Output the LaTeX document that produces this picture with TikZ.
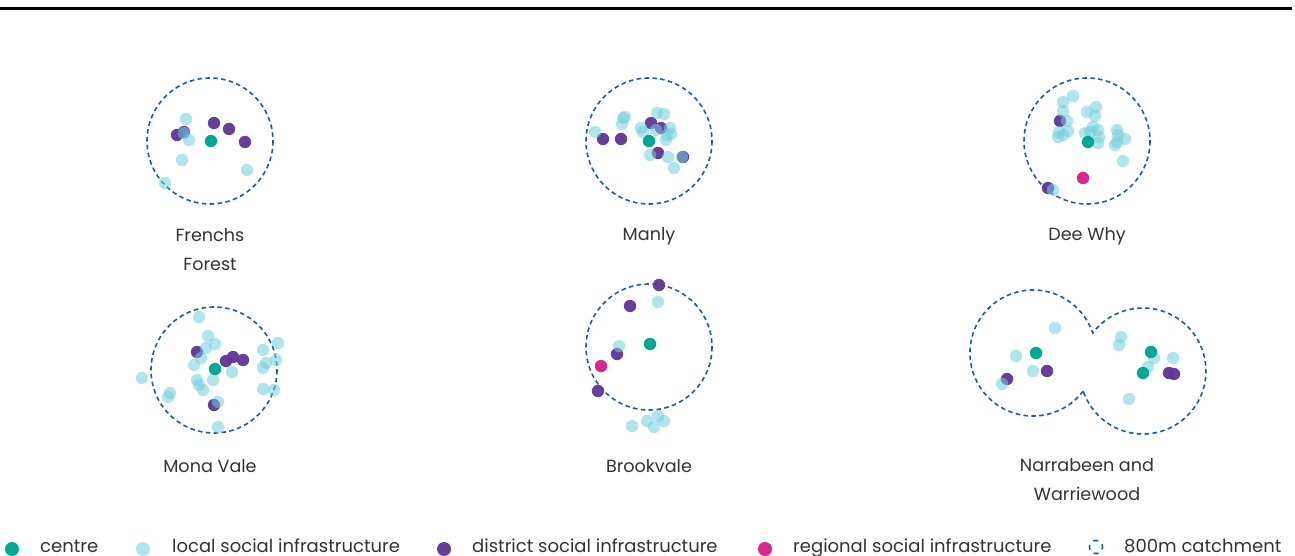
\documentclass[tikz,border=0pt]{standalone}
\usepackage{fontspec}
\setmainfont{Poppins}
\definecolor{centrec}{HTML}{00A896}
\definecolor{localc}{HTML}{6FCFDD}
\definecolor{distc}{HTML}{5F3596}
\definecolor{regc}{HTML}{D9268E}
\definecolor{catchc}{HTML}{1A5AA8}
\definecolor{txtc}{HTML}{333333}
\tikzset{
  catch/.style={draw=catchc, line width=1.6pt, dash pattern=on 4.5pt off 3.4pt},
  locd/.style={fill=localc, fill opacity=0.55},
  distd/.style={fill=distc, fill opacity=0.95},
  cend/.style={fill=centrec},
  regd/.style={fill=regc},
  lab/.style={text=txtc, font=\fontsize{17.6}{29}\selectfont, align=center, anchor=center, inner sep=0pt},
  legt/.style={text=txtc, font=\fontsize{18}{20}\selectfont, anchor=base west, inner sep=0pt},
}
\newcommand{\loc}[1]{\fill[locd] (#1) circle[radius=6.2];}
\newcommand{\dis}[1]{\fill[distd] (#1) circle[radius=6.2];}
\newcommand{\cen}[1]{\fill[cend] (#1) circle[radius=6.2];}
\newcommand{\reg}[1]{\fill[regd] (#1) circle[radius=6.2];}
\begin{document}
\begin{tikzpicture}[x=1pt,y=-1pt]
\useasboundingbox (0,0) rectangle (1295,556);
% top rule
\draw[line width=2.4pt, black] (0,8.5) -- (1292,8.5);

% ---------- catchments ----------
\draw[catch] (210,141) circle[radius=63];
\draw[catch] (649,141) circle[radius=63];
\draw[catch] (1087,141) circle[radius=63];
\draw[catch] (214,370) circle[radius=63];
\draw[catch] (649,347) circle[radius=63];
\draw[catch] (1083.2,391) arc[start angle=37.1, end angle=341.5, radius=63]
                          arc[start angle=217.1, end angle=521.5, radius=63] -- cycle;

% ---------- Frenchs Forest ----------
\dis{177,135}\dis{184,132}\dis{214,123}\dis{229,129}\dis{245,142}
\loc{186,119}\loc{184,133}\loc{189,140}\loc{182,160}\loc{247,170}\loc{165,183}
\cen{211,141}

% ---------- Manly ----------
\dis{603,139}\dis{621,139}\dis{651,123}\dis{661,128}\dis{658,153}\dis{683,157}
\loc{595,132}\loc{623,118}\loc{625,117}\loc{622,124}\loc{657,113}\loc{664,114}
\loc{641,128}\loc{643,132}\loc{670,128}\loc{667,135}\loc{671,134}\loc{666,140}
\loc{650,155}\loc{668,157}\loc{674,168}\loc{682,157}\loc{656,130}
\cen{649,141}

% ---------- Dee Why ----------
\dis{1060,121}\dis{1048,188}
\loc{1073,96}\loc{1063,102}\loc{1063,111}\loc{1067,121}
\loc{1059,132}\loc{1068,131}\loc{1058,137}\loc{1063,135}
\loc{1087,112}\loc{1096,107}\loc{1095,116}
\loc{1085,133}\loc{1093,127}\loc{1098,130}\loc{1090,132}\loc{1099,137}\loc{1098,143}
\loc{1117,130}\loc{1118,135}\loc{1125,139}\loc{1115,145}\loc{1117,142}
\loc{1123,161}\loc{1053,190}
\cen{1088,142}
\reg{1083,178}

% ---------- Mona Vale ----------
\dis{197,352}\dis{226,361}\dis{233,357}\dis{243,360}\dis{214,405}
\loc{199,317}\loc{208,336}\loc{215,344}\loc{206,348}\loc{201,358}\loc{194,365}
\loc{232,372}\loc{213,380}\loc{197,380}\loc{199,385}\loc{203,390}
\loc{142,378}\loc{170,393}\loc{168,397}\loc{218,402}\loc{218,427}
\loc{278,343}\loc{263,350}\loc{276,360}\loc{266,363}\loc{263,368}
\loc{263,389}\loc{274,390}
\cen{215,369}

% ---------- Brookvale ----------
\dis{659,285}\dis{630,306}\dis{617,354}\dis{598,391}
\loc{658,302}\loc{619,346}\loc{632,426}\loc{647,421}\loc{658,416}\loc{664,421}\loc{654,427}
\cen{650,344}
\reg{601,366}

% ---------- Narrabeen and Warriewood ----------
\dis{1047,371}\dis{1007,379}\dis{1169,373}\dis{1174,374}
\loc{1055,328}\loc{1016,356}\loc{1033,371}\loc{1002,384}
\loc{1121,337}\loc{1119,345}\loc{1154,358}\loc{1173,358}\loc{1148,367}\loc{1129,399}
\cen{1036,353}\cen{1151,352}\cen{1143,373}

% ---------- labels ----------
\node[lab] (lff) at (210,250) {Frenchs\\Forest};
\node[lab] (lma) at (649,236) {Manly};
\node[lab] (ldw) at (1087,236) {Dee Why};
\node[lab] (lmv) at (210,466) {Mona Vale};
\node[lab] (lbv) at (649,466) {Brookvale};
\node[lab] (lnw) at (1087,480) {Narrabeen and\\Warriewood};

% ---------- legend ----------
\fill[cend] (12,549) circle[radius=7];
\node[legt] (l1) at (40,552) {centre};
\fill[locd] (143,549) circle[radius=7];
\node[legt] (l2) at (172,552) {local social infrastructure};
\fill[distd] (444,549) circle[radius=7];
\node[legt] (l3) at (472,552) {district social infrastructure};
\fill[regd] (765,549) circle[radius=7];
\node[legt] (l4) at (793,552) {regional social infrastructure};
\draw[draw=catchc, line width=1.6pt, dash pattern=on 5pt off 5.2pt, dash phase=2.5pt] (1096,547) circle[radius=6.6];
\node[legt] (l5) at (1124,552) {800m catchment};
\end{tikzpicture}
\end{document}
